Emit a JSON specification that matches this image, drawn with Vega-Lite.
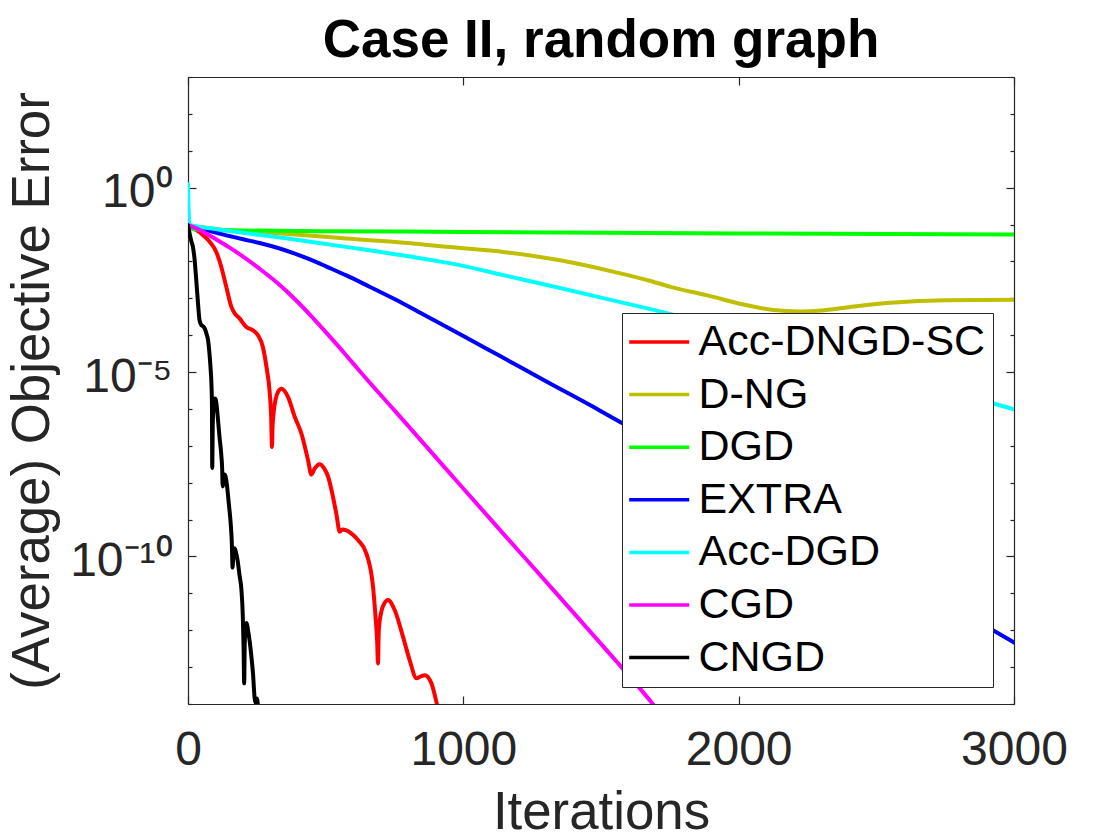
{
  "$schema": "https://vega.github.io/schema/vega-lite/v6.json",
  "width": 826,
  "height": 627,
  "autosize": {"type": "none"},
  "padding": {"left": 188, "top": 77, "right": 106, "bottom": 136},
  "background": "white",
  "title": {"text": "Case II, random graph", "font": "Liberation Sans", "fontSize": 53, "fontWeight": "bold", "color": "#000000", "anchor": "middle", "offset": -10},
  "config": {
    "view": {"stroke": null},
    "axis": {"grid": false, "domainColor": "#262626", "tickColor": "#262626", "domainWidth": 1.2, "tickWidth": 1.2, "labelFont": "Liberation Sans", "labelFontSize": 48, "labelColor": "#262626", "titleFont": "Liberation Sans", "titleFontSize": 52.8, "titleFontWeight": "normal", "titleColor": "#262626"}
  },
  "data": {"values": [
    {"s":"Acc-DNGD-SC","i":0,"v":9.55e-2},{"s":"Acc-DNGD-SC","i":12,"v":8.51e-2},{"s":"Acc-DNGD-SC","i":49,"v":5.62e-2},{"s":"Acc-DNGD-SC","i":79,"v":3.39e-2},{"s":"Acc-DNGD-SC","i":103,"v":1.78e-2},{"s":"Acc-DNGD-SC","i":121,"v":7.08e-3},{"s":"Acc-DNGD-SC","i":139,"v":2.04e-3},{"s":"Acc-DNGD-SC","i":158,"v":5.75e-4},{"s":"Acc-DNGD-SC","i":170,"v":3.89e-4},{"s":"Acc-DNGD-SC","i":188,"v":2.82e-4},{"s":"Acc-DNGD-SC","i":212,"v":1.66e-4},{"s":"Acc-DNGD-SC","i":236,"v":1.35e-4},{"s":"Acc-DNGD-SC","i":254,"v":1e-4},{"s":"Acc-DNGD-SC","i":272,"v":4.79e-5},{"s":"Acc-DNGD-SC","i":285,"v":1.38e-5},{"s":"Acc-DNGD-SC","i":297,"v":2.63e-6},{"s":"Acc-DNGD-SC","i":302,"v":6.31e-7},{"s":"Acc-DNGD-SC","i":305,"v":9.33e-8},{"s":"Acc-DNGD-SC","i":307,"v":3.16e-7},{"s":"Acc-DNGD-SC","i":311,"v":7.94e-7},{"s":"Acc-DNGD-SC","i":318,"v":1.78e-6},{"s":"Acc-DNGD-SC","i":328,"v":3.02e-6},{"s":"Acc-DNGD-SC","i":339,"v":3.55e-6},{"s":"Acc-DNGD-SC","i":363,"v":2.14e-6},{"s":"Acc-DNGD-SC","i":388,"v":6.03e-7},{"s":"Acc-DNGD-SC","i":412,"v":2.14e-7},{"s":"Acc-DNGD-SC","i":436,"v":4.07e-8},{"s":"Acc-DNGD-SC","i":448,"v":1.66e-8},{"s":"Acc-DNGD-SC","i":460,"v":2.4e-8},{"s":"Acc-DNGD-SC","i":478,"v":3.16e-8},{"s":"Acc-DNGD-SC","i":495,"v":2.4e-8},{"s":"Acc-DNGD-SC","i":509,"v":1.45e-8},{"s":"Acc-DNGD-SC","i":527,"v":3.98e-9},{"s":"Acc-DNGD-SC","i":539,"v":1.41e-9},{"s":"Acc-DNGD-SC","i":551,"v":4.68e-10},{"s":"Acc-DNGD-SC","i":560,"v":5.37e-10},{"s":"Acc-DNGD-SC","i":575,"v":5.13e-10},{"s":"Acc-DNGD-SC","i":600,"v":3.8e-10},{"s":"Acc-DNGD-SC","i":618,"v":2.75e-10},{"s":"Acc-DNGD-SC","i":648,"v":1.2e-10},{"s":"Acc-DNGD-SC","i":672,"v":1.51e-11},{"s":"Acc-DNGD-SC","i":682,"v":1.86e-12},{"s":"Acc-DNGD-SC","i":687,"v":5.01e-13},{"s":"Acc-DNGD-SC","i":690,"v":1.26e-13},{"s":"Acc-DNGD-SC","i":693,"v":1e-12},{"s":"Acc-DNGD-SC","i":702,"v":3.16e-12},{"s":"Acc-DNGD-SC","i":715,"v":5.62e-12},{"s":"Acc-DNGD-SC","i":726,"v":6.61e-12},{"s":"Acc-DNGD-SC","i":751,"v":3.47e-12},{"s":"Acc-DNGD-SC","i":781,"v":6.61e-13},{"s":"Acc-DNGD-SC","i":805,"v":1.55e-13},{"s":"Acc-DNGD-SC","i":830,"v":5.01e-14},{"s":"Acc-DNGD-SC","i":845,"v":5.62e-14},{"s":"Acc-DNGD-SC","i":860,"v":6.03e-14},{"s":"Acc-DNGD-SC","i":884,"v":3.63e-14},{"s":"Acc-DNGD-SC","i":902,"v":1.15e-14},{"s":"Acc-DNGD-SC","i":915,"v":3.98e-15},
    {"s":"D-NG","i":0,"v":9.55e-2},{"s":"D-NG","i":100,"v":7.59e-2},{"s":"D-NG","i":300,"v":6.03e-2},{"s":"D-NG","i":575,"v":4.17e-2},{"s":"D-NG","i":800,"v":3.16e-2},{"s":"D-NG","i":950,"v":2.45e-2},{"s":"D-NG","i":1150,"v":1.78e-2},{"s":"D-NG","i":1351,"v":1.07e-2},{"s":"D-NG","i":1551,"v":5.13e-3},{"s":"D-NG","i":1680,"v":2.95e-3},{"s":"D-NG","i":1752,"v":2.04e-3},{"s":"D-NG","i":1886,"v":1.2e-3},{"s":"D-NG","i":2018,"v":6.76e-4},{"s":"D-NG","i":2126,"v":4.79e-4},{"s":"D-NG","i":2218,"v":4.37e-4},{"s":"D-NG","i":2300,"v":4.68e-4},{"s":"D-NG","i":2400,"v":5.75e-4},{"s":"D-NG","i":2552,"v":7.59e-4},{"s":"D-NG","i":2752,"v":8.91e-4},{"s":"D-NG","i":3000,"v":9.12e-4},
    {"s":"DGD","i":0,"v":9.55e-2},{"s":"DGD","i":15,"v":7.59e-2},{"s":"DGD","i":100,"v":7.08e-2},{"s":"DGD","i":500,"v":6.61e-2},{"s":"DGD","i":1000,"v":6.31e-2},{"s":"DGD","i":2000,"v":5.75e-2},{"s":"DGD","i":3000,"v":5.37e-2},
    {"s":"EXTRA","i":0,"v":2.82e-1},{"s":"EXTRA","i":3,"v":9.55e-2},{"s":"EXTRA","i":50,"v":7.59e-2},{"s":"EXTRA","i":100,"v":6.03e-2},{"s":"EXTRA","i":150,"v":4.9e-2},{"s":"EXTRA","i":200,"v":3.98e-2},{"s":"EXTRA","i":260,"v":3.16e-2},{"s":"EXTRA","i":333,"v":2.24e-2},{"s":"EXTRA","i":400,"v":1.51e-2},{"s":"EXTRA","i":454,"v":1.05e-2},{"s":"EXTRA","i":503,"v":7.24e-3},{"s":"EXTRA","i":575,"v":4.17e-3},{"s":"EXTRA","i":650,"v":2.24e-3},{"s":"EXTRA","i":750,"v":9.55e-4},{"s":"EXTRA","i":850,"v":3.8e-4},{"s":"EXTRA","i":1000,"v":9.55e-5},{"s":"EXTRA","i":1132,"v":2.75e-5},{"s":"EXTRA","i":1300,"v":5.62e-6},{"s":"EXTRA","i":1495,"v":9.12e-7},{"s":"EXTRA","i":1576,"v":4.17e-7},{"s":"EXTRA","i":2000,"v":7.08e-9},{"s":"EXTRA","i":2500,"v":5.62e-11},{"s":"EXTRA","i":2930,"v":9.33e-13},{"s":"EXTRA","i":3000,"v":4.68e-13},
    {"s":"Acc-DGD","i":0,"v":1.26},{"s":"Acc-DGD","i":4,"v":1e-1},{"s":"Acc-DGD","i":100,"v":7.59e-2},{"s":"Acc-DGD","i":260,"v":5.25e-2},{"s":"Acc-DGD","i":400,"v":3.8e-2},{"s":"Acc-DGD","i":624,"v":2.19e-2},{"s":"Acc-DGD","i":800,"v":1.38e-2},{"s":"Acc-DGD","i":987,"v":7.94e-3},{"s":"Acc-DGD","i":1150,"v":4.17e-3},{"s":"Acc-DGD","i":1351,"v":1.91e-3},{"s":"Acc-DGD","i":1551,"v":8.51e-4},{"s":"Acc-DGD","i":1754,"v":3.72e-4},{"s":"Acc-DGD","i":2000,"v":1.2e-4},{"s":"Acc-DGD","i":2300,"v":2.95e-5},{"s":"Acc-DGD","i":2600,"v":6.76e-6},{"s":"Acc-DGD","i":2948,"v":1.26e-6},{"s":"Acc-DGD","i":3000,"v":9.77e-7},
    {"s":"CGD","i":0,"v":9.55e-2},{"s":"CGD","i":30,"v":7.94e-2},{"s":"CGD","i":61,"v":6.03e-2},{"s":"CGD","i":100,"v":4.07e-2},{"s":"CGD","i":150,"v":2.4e-2},{"s":"CGD","i":200,"v":1.35e-2},{"s":"CGD","i":260,"v":6.31e-3},{"s":"CGD","i":327,"v":2.51e-3},{"s":"CGD","i":381,"v":1.07e-3},{"s":"CGD","i":440,"v":3.8e-4},{"s":"CGD","i":503,"v":1.15e-4},{"s":"CGD","i":575,"v":2.82e-5},{"s":"CGD","i":624,"v":1.05e-5},{"s":"CGD","i":745,"v":1e-6},{"s":"CGD","i":866,"v":9.55e-8},{"s":"CGD","i":987,"v":8.91e-9},{"s":"CGD","i":1132,"v":5.37e-10},{"s":"CGD","i":1338,"v":1e-11},{"s":"CGD","i":1500,"v":4.27e-13},{"s":"CGD","i":1677,"v":1.26e-14},{"s":"CGD","i":1720,"v":5.01e-15},
    {"s":"CNGD","i":0,"v":9.55e-2},{"s":"CNGD","i":6,"v":5.62e-2},{"s":"CNGD","i":12,"v":3.55e-2},{"s":"CNGD","i":18,"v":2.45e-2},{"s":"CNGD","i":24,"v":1.12e-2},{"s":"CNGD","i":30,"v":3.09e-3},{"s":"CNGD","i":36,"v":7.94e-4},{"s":"CNGD","i":42,"v":2.51e-4},{"s":"CNGD","i":48,"v":1.91e-4},{"s":"CNGD","i":55,"v":1.74e-4},{"s":"CNGD","i":61,"v":1.51e-4},{"s":"CNGD","i":67,"v":1.1e-4},{"s":"CNGD","i":73,"v":7.24e-5},{"s":"CNGD","i":78,"v":3.16e-5},{"s":"CNGD","i":82,"v":1.26e-5},{"s":"CNGD","i":85,"v":5.01e-6},{"s":"CNGD","i":87,"v":1.26e-6},{"s":"CNGD","i":88,"v":2.51e-8},{"s":"CNGD","i":90,"v":3.98e-7},{"s":"CNGD","i":93,"v":1.26e-6},{"s":"CNGD","i":97,"v":1.91e-6},{"s":"CNGD","i":100,"v":1.86e-6},{"s":"CNGD","i":104,"v":1.26e-6},{"s":"CNGD","i":109,"v":5.01e-7},{"s":"CNGD","i":115,"v":1.58e-7},{"s":"CNGD","i":121,"v":5.62e-8},{"s":"CNGD","i":124,"v":2.51e-8},{"s":"CNGD","i":126,"v":7.94e-9},{"s":"CNGD","i":129,"v":1.41e-8},{"s":"CNGD","i":133,"v":1.66e-8},{"s":"CNGD","i":137,"v":1.41e-8},{"s":"CNGD","i":142,"v":7.94e-9},{"s":"CNGD","i":148,"v":2.82e-9},{"s":"CNGD","i":155,"v":7.94e-10},{"s":"CNGD","i":159,"v":2.51e-10},{"s":"CNGD","i":162,"v":5.01e-11},{"s":"CNGD","i":165,"v":1.26e-10},{"s":"CNGD","i":169,"v":1.66e-10},{"s":"CNGD","i":173,"v":1.41e-10},{"s":"CNGD","i":180,"v":7.94e-11},{"s":"CNGD","i":187,"v":3.16e-11},{"s":"CNGD","i":194,"v":1.26e-11},{"s":"CNGD","i":199,"v":2.51e-12},{"s":"CNGD","i":202,"v":3.16e-13},{"s":"CNGD","i":204,"v":3.63e-14},{"s":"CNGD","i":206,"v":3.98e-13},{"s":"CNGD","i":209,"v":1.26e-12},{"s":"CNGD","i":213,"v":1.58e-12},{"s":"CNGD","i":218,"v":1e-12},{"s":"CNGD","i":224,"v":5.01e-13},{"s":"CNGD","i":230,"v":2e-13},{"s":"CNGD","i":236,"v":6.76e-14},{"s":"CNGD","i":242,"v":1.45e-14},{"s":"CNGD","i":246,"v":1.05e-14},{"s":"CNGD","i":251,"v":1.41e-14},{"s":"CNGD","i":256,"v":5.01e-15}
  ]},
  "layer": [
    {
      "mark": {"type": "line", "strokeWidth": 4, "clip": true, "interpolate": "monotone", "strokeJoin": "round", "strokeCap": "round"},
      "encoding": {
        "x": {"field": "i", "type": "quantitative", "scale": {"domain": [0, 3000], "nice": false, "zero": false},
          "axis": {"orient": "bottom", "values": [0, 1000, 2000, 3000], "format": "d", "tickSize": -8, "labelPadding": 30, "labelFlush": false, "labelOverlap": false, "title": "Iterations", "titlePadding": 12}},
        "y": {"field": "v", "type": "quantitative", "scale": {"type": "log", "domain": [1e-14, 1000], "nice": false},
          "axis": {"orient": "left", "values": [1e-14, 1e-13, 1e-12, 1e-11, 1e-10, 1e-9, 1e-8, 1e-7, 1e-6, 1e-5, 1e-4, 1e-3, 1e-2, 1e-1, 1, 10, 100, 1000],
            "labelExpr": "abs(log(datum.value)/LN10) < 0.01 ? '10⁰' : abs(log(datum.value)/LN10 + 5) < 0.01 ? '10⁻⁵' : abs(log(datum.value)/LN10 + 10) < 0.01 ? '10⁻¹⁰' : ''",
            "tickSize": {"condition": {"test": "abs(log(datum.value)/LN10) < 0.01 || abs(log(datum.value)/LN10 + 5) < 0.01 || abs(log(datum.value)/LN10 + 10) < 0.01", "value": -8}, "value": -4},
            "labelPadding": 24, "labelOffset": 5, "labelOverlap": false, "title": "(Average) Objective Error", "titlePadding": 10}},
        "color": {"field": "s", "type": "nominal",
          "scale": {"domain": ["Acc-DNGD-SC", "D-NG", "DGD", "EXTRA", "Acc-DGD", "CGD", "CNGD"], "range": ["#FF0000", "#BFBF00", "#00FF00", "#0000FF", "#00FFFF", "#FF00FF", "#000000"]},
          "legend": {"orient": "none", "legendX": 434, "legendY": 236, "title": null, "symbolType": "M-1.09,0H1.91", "symbolSize": 1600, "symbolStrokeWidth": 3.5, "labelFont": "Liberation Sans", "labelFontSize": 43, "labelColor": "#000000", "labelOffset": 25.5, "labelLimit": 600, "rowPadding": 8.6, "padding": 7, "strokeColor": "#262626", "fillColor": "white"}}
      }
    },
    {
      "mark": {"type": "point", "opacity": 0},
      "encoding": {
        "x": {"field": "i", "type": "quantitative",
          "axis": {"orient": "top", "values": [0, 1000, 2000, 3000], "tickSize": -8, "labels": false, "title": null}},
        "y": {"field": "v", "type": "quantitative",
          "axis": {"orient": "right", "values": [1e-14, 1e-13, 1e-12, 1e-11, 1e-10, 1e-9, 1e-8, 1e-7, 1e-6, 1e-5, 1e-4, 1e-3, 1e-2, 1e-1, 1, 10, 100, 1000],
            "tickSize": {"condition": {"test": "abs(log(datum.value)/LN10) < 0.01 || abs(log(datum.value)/LN10 + 5) < 0.01 || abs(log(datum.value)/LN10 + 10) < 0.01", "value": -8}, "value": -4},
            "labels": false, "title": null}}
      }
    }
  ],
  "resolve": {"axis": {"x": "independent", "y": "independent"}}
}
